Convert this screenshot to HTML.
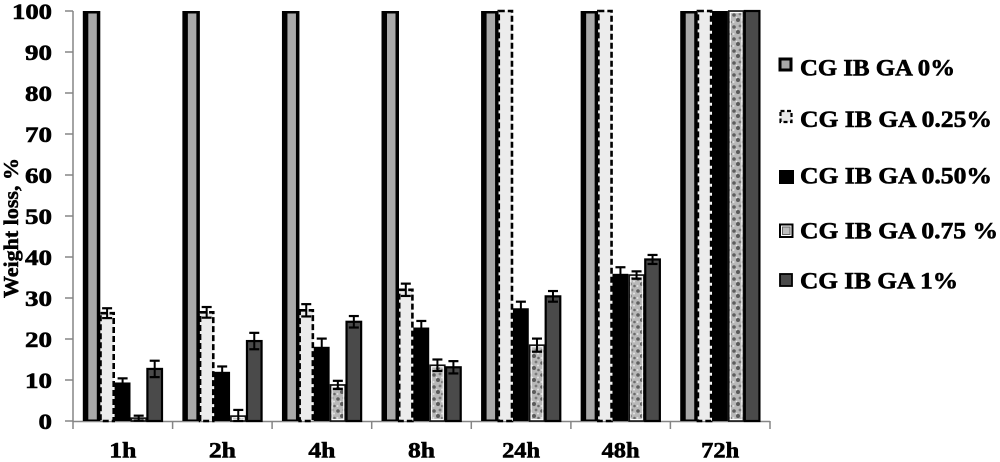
<!DOCTYPE html>
<html>
<head>
<meta charset="utf-8">
<style>
  html, body { margin:0; padding:0; background:#fff; }
  svg { display:block; }
</style>
</head>
<body>
<svg width="1000" height="462" viewBox="0 0 1000 462" xmlns="http://www.w3.org/2000/svg" font-family="'Liberation Serif', 'Times New Roman', serif" font-weight="bold">
  <defs>
    <pattern id="speck" x="0" y="0" width="12" height="12" patternUnits="userSpaceOnUse">
      <rect width="12" height="12" fill="#b8b8b8"/>
      <circle cx="2" cy="3" r="1.8" fill="#5e5e5e"/>
      <circle cx="8" cy="2" r="1.4" fill="#7a7a7a"/>
      <circle cx="6" cy="8" r="2" fill="#5a5a5a"/>
      <circle cx="10.5" cy="10" r="1.3" fill="#6a6a6a"/>
      <circle cx="1.5" cy="10" r="1" fill="#e0e0e0"/>
      <circle cx="10" cy="5.5" r="1" fill="#e4e4e4"/>
      <circle cx="4.5" cy="5.5" r="0.8" fill="#e8e8e8"/>
    </pattern>
  </defs>

  <!-- Y axis title -->
  <text transform="translate(18,228) rotate(-90)" text-anchor="middle" font-size="21" textLength="140" lengthAdjust="spacingAndGlyphs" font-family="'Liberation Serif', serif" font-weight="bold" stroke="#000" stroke-width="0.5">Weight loss, %</text>

  <!-- Y tick labels -->
  <g font-size="22" text-anchor="end" font-family="'Liberation Serif', serif" font-weight="bold" stroke="#000" stroke-width="0.6">
    <text x="52" y="19" textLength="40" lengthAdjust="spacingAndGlyphs">100</text>
    <text x="52" y="60" textLength="27" lengthAdjust="spacingAndGlyphs">90</text>
    <text x="52" y="101" textLength="27" lengthAdjust="spacingAndGlyphs">80</text>
    <text x="52" y="142" textLength="27" lengthAdjust="spacingAndGlyphs">70</text>
    <text x="52" y="183" textLength="27" lengthAdjust="spacingAndGlyphs">60</text>
    <text x="52" y="224" textLength="27" lengthAdjust="spacingAndGlyphs">50</text>
    <text x="52" y="265" textLength="27" lengthAdjust="spacingAndGlyphs">40</text>
    <text x="52" y="306" textLength="27" lengthAdjust="spacingAndGlyphs">30</text>
    <text x="52" y="347" textLength="27" lengthAdjust="spacingAndGlyphs">20</text>
    <text x="52" y="388" textLength="27" lengthAdjust="spacingAndGlyphs">10</text>
    <text x="52" y="429" textLength="13.5" lengthAdjust="spacingAndGlyphs">0</text>
  </g>

  <!-- Axes -->
  <g stroke="#858585" stroke-width="1.5" fill="none">
    <line x1="73" y1="11" x2="73" y2="421.5"/>
    <line x1="65" y1="11" x2="73" y2="11"/>
    <line x1="65" y1="52" x2="73" y2="52"/>
    <line x1="65" y1="93" x2="73" y2="93"/>
    <line x1="65" y1="134" x2="73" y2="134"/>
    <line x1="65" y1="175" x2="73" y2="175"/>
    <line x1="65" y1="216" x2="73" y2="216"/>
    <line x1="65" y1="257" x2="73" y2="257"/>
    <line x1="65" y1="298" x2="73" y2="298"/>
    <line x1="65" y1="339" x2="73" y2="339"/>
    <line x1="65" y1="380" x2="73" y2="380"/>
    <line x1="65" y1="421" x2="73" y2="421"/>
    <line x1="73" y1="421.5" x2="770" y2="421.5"/>
    <line x1="73" y1="421" x2="73" y2="429"/>
    <line x1="172.6" y1="421" x2="172.6" y2="429"/>
    <line x1="272.1" y1="421" x2="272.1" y2="429"/>
    <line x1="371.7" y1="421" x2="371.7" y2="429"/>
    <line x1="471.3" y1="421" x2="471.3" y2="429"/>
    <line x1="570.9" y1="421" x2="570.9" y2="429"/>
    <line x1="670.4" y1="421" x2="670.4" y2="429"/>
    <line x1="770" y1="421" x2="770" y2="429"/>
  </g>

  <g id="bars"></g>

  <!-- X labels -->
  <g font-size="22" text-anchor="middle" font-family="'Liberation Serif', serif" font-weight="bold" stroke="#000" stroke-width="0.6">
    <text x="122.8" y="457.5" textLength="27" lengthAdjust="spacingAndGlyphs">1h</text>
    <text x="222.4" y="457.5" textLength="27" lengthAdjust="spacingAndGlyphs">2h</text>
    <text x="321.9" y="457.5" textLength="27" lengthAdjust="spacingAndGlyphs">4h</text>
    <text x="421.5" y="457.5" textLength="27" lengthAdjust="spacingAndGlyphs">8h</text>
    <text x="521.1" y="457.5" textLength="38" lengthAdjust="spacingAndGlyphs">24h</text>
    <text x="620.6" y="457.5" textLength="38" lengthAdjust="spacingAndGlyphs">48h</text>
    <text x="720.2" y="457.5" textLength="38" lengthAdjust="spacingAndGlyphs">72h</text>
  </g>

  <!-- Legend -->
  <g>
    <rect x="780" y="59" width="11" height="11" fill="#a9a9a9" stroke="#000" stroke-width="3"/>
    <rect x="780.5" y="111" width="11" height="11" fill="#e6e6e6" stroke="#000" stroke-width="2.2" stroke-dasharray="4 2.5"/>
    <rect x="779" y="170" width="15" height="14" fill="#000"/>
    <rect x="780" y="224.5" width="12.5" height="12.5" fill="#fff" stroke="#000" stroke-width="2"/>
    <rect x="782.5" y="227" width="7.5" height="7.5" fill="#bdbdbd" stroke="#666" stroke-width="1"/>
    <rect x="780" y="274" width="12" height="12" fill="#4a4a4a" stroke="#000" stroke-width="1.8"/>
  </g>
  <g font-size="23" font-family="'Liberation Serif', serif" font-weight="bold" stroke="#000" stroke-width="0.6">
    <text x="800" y="75.5" textLength="155" lengthAdjust="spacingAndGlyphs">CG IB GA 0%</text>
    <text x="800" y="127" textLength="192" lengthAdjust="spacingAndGlyphs">CG IB GA 0.25%</text>
    <text x="800" y="183.5" textLength="192" lengthAdjust="spacingAndGlyphs">CG IB GA 0.50%</text>
    <text x="800" y="238.5" textLength="198" lengthAdjust="spacingAndGlyphs">CG IB GA 0.75 %</text>
    <text x="800" y="288.5" textLength="158" lengthAdjust="spacingAndGlyphs">CG IB GA 1%</text>
  </g>

  <script>
  (function(){
    var NS = "http://www.w3.org/2000/svg";
    var g = document.getElementById("bars");
    function y(v){ return 421 - v*4.1; }
    function el(name, attrs){
      var e = document.createElementNS(NS, name);
      for (var k in attrs) e.setAttribute(k, attrs[k]);
      g.appendChild(e); return e;
    }
    var dashed = [26.3, 26.5, 27, 32, 100, 100, 100];
    var dashedE = [1.2, 1.3, 1.5, 1.5, 0, 0, 0];
    var black = [9.4, 12, 18.1, 22.8, 27.5, 35.9, 100];
    var blackE = [1.0, 1.3, 2.0, 1.6, 1.6, 1.6, 0];
    var p75 = [0.7, 1.2, 8.8, 13.6, 18.5, 35.6, 100];
    var p75E = [0.6, 1.5, 1.0, 1.4, 1.6, 0.9, 0];
    var one = [12.7, 19.5, 24.2, 13.1, 30.4, 39.4, 100];
    var oneE = [2.0, 2.0, 1.4, 1.5, 1.3, 1.1, 0];
    var W = 99.57, pitch = 15.9;
    var errs = [];
    for (var i=0;i<7;i++){
      var gx = 73 + i*W + 9.8;
      var bx = gx;
      el("rect",{x:bx, y:11, width:17.5, height:410, fill:"#000"});
      el("rect",{x:bx+5.5, y:13.5, width:8.5, height:406, fill:"#a9a9a9"});
      bx = gx + pitch;
      var t = y(dashed[i]);
      el("rect",{x:bx+1.8, y:t, width:13.2, height:421-t, fill:"#ececec"});
      el("rect",{x:bx+1.8, y:t, width:13.2, height:421-t, fill:"none", stroke:"#000", "stroke-width":2.6, "stroke-dasharray":"6 3"});
      errs.push([bx+8.4, dashed[i], dashedE[i]]);
      bx = gx + 2*pitch;
      t = y(black[i]);
      el("rect",{x:bx, y:t, width:15.9, height:421-t, fill:"#000"});
      errs.push([bx+8, black[i], blackE[i]]);
      bx = gx + 3*pitch;
      t = y(p75[i]);
      var h = 421-t;
      el("rect",{x:bx+0.8, y:t, width:14.8, height:h, fill:"url(#speck)", stroke:"#111", "stroke-width":1.6});
      if (h > 4) el("rect",{x:bx+2.4, y:t+1.6, width:11.6, height:h-3, fill:"none", stroke:"#fff", "stroke-width":1});
      errs.push([bx+8.2, p75[i], p75E[i]]);
      bx = gx + 4*pitch;
      t = y(one[i]);
      el("rect",{x:bx+1, y:t, width:14.6, height:421-t, fill:"#4a4a4a", stroke:"#000", "stroke-width":2.2});
      errs.push([bx+8.3, one[i], oneE[i]]);
    }
    errs.forEach(function(e){
      if (!e[2]) return;
      var cx = e[0], t = y(e[1]+e[2]), b = y(Math.max(0,e[1]-e[2]));
      el("line",{x1:cx, y1:t, x2:cx, y2:b, stroke:"#000", "stroke-width":2});
      el("line",{x1:cx-5, y1:t, x2:cx+5, y2:t, stroke:"#000", "stroke-width":2.2});
      el("line",{x1:cx-5, y1:b, x2:cx+5, y2:b, stroke:"#000", "stroke-width":2.2});
    });
  })();
  </script>
</body>
</html>
